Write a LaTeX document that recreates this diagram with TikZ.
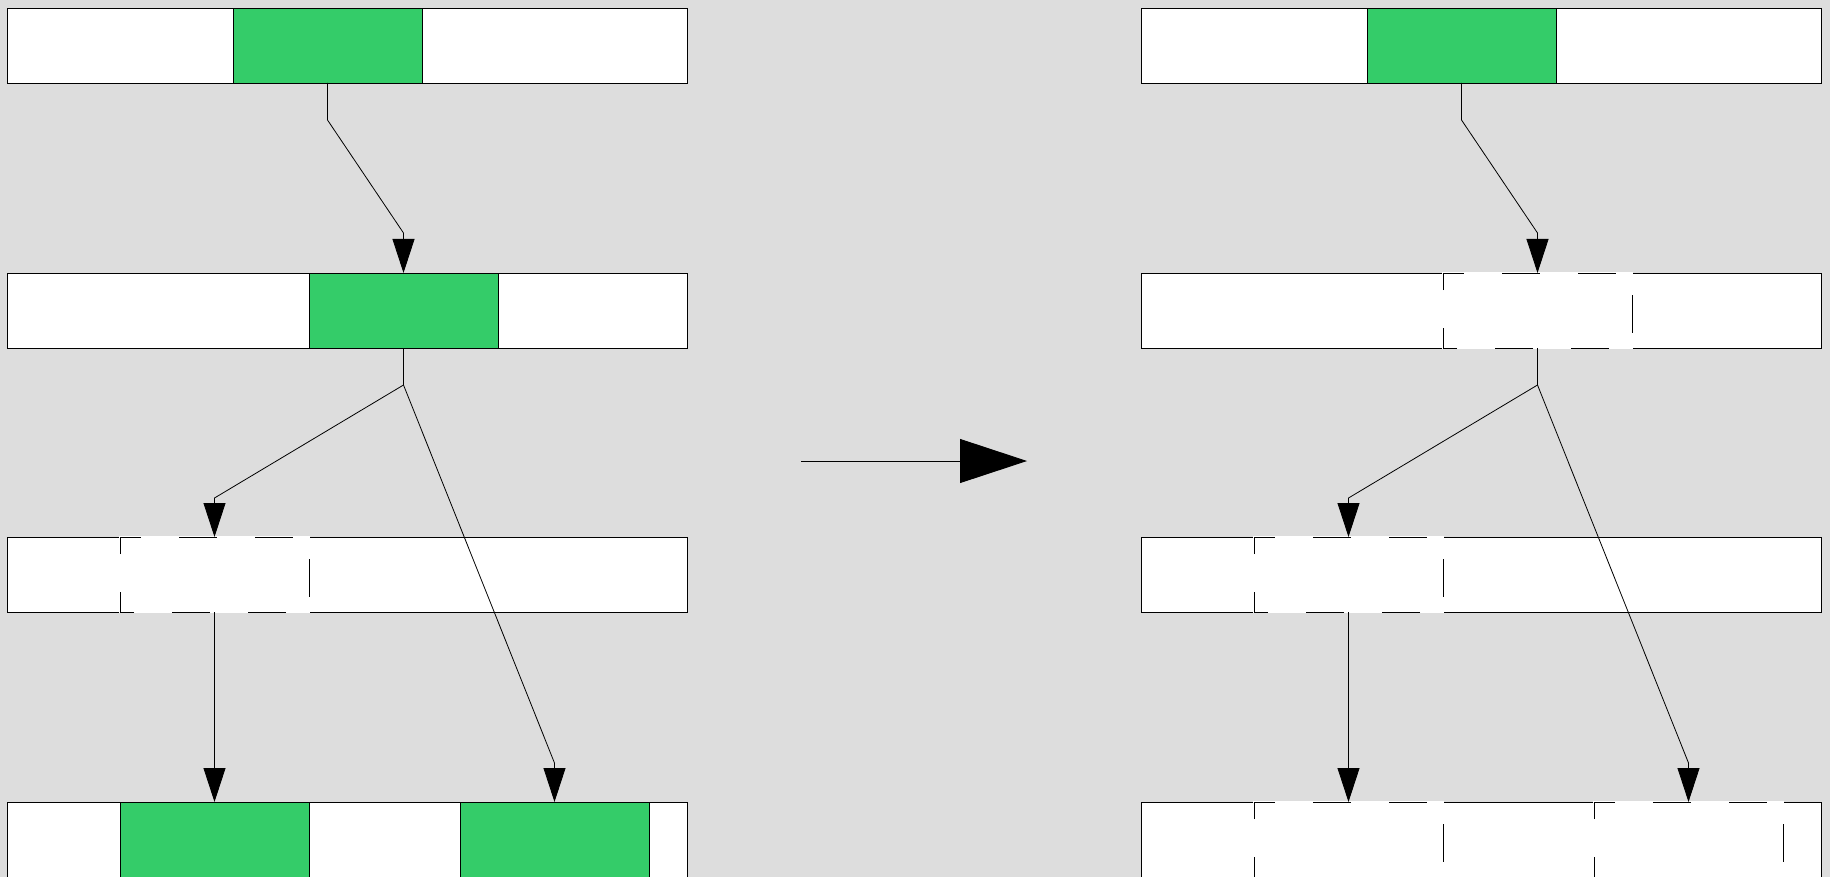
\documentclass[tikz,border=0pt]{standalone}
\usetikzlibrary{arrows.meta}
\definecolor{bg}{HTML}{DDDDDD}
\definecolor{hot}{HTML}{34CC69}
\begin{document}
\begin{tikzpicture}[x=1pt,y=-1pt,line width=0.9pt,
  bar/.style={draw=black, fill=white, minimum width=680pt, minimum height=75pt,
    anchor=north west, inner sep=0pt, outer sep=0pt},
  seg/.style={minimum width=189pt, minimum height=75pt,
    anchor=north west, inner sep=0pt, outer sep=0pt},
  hotseg/.style={seg, draw=black, fill=hot},
  ghostseg/.style={seg, fill=white, draw=white, solid, line width=1.3pt},
  ghostline/.style={draw=black, line width=0.9pt,
    dash pattern=on 38pt off 38pt, dash phase=18pt},
  link/.style={draw=black, line width=0.8pt, -{Triangle[length=34pt,width=22pt]}}]

% canvas
\fill[bg] (0,0) rectangle (1830,877);
\useasboundingbox (0,0) rectangle (1830,877);

% ---------- before ----------
\node[bar] (L1) at (7,8) {};
\node[bar] (L2) at (7,273) {};
\node[bar] (L3) at (7,537) {};
\node[bar] (L4) at (7,802) {};

\node[hotseg]   (l1) at (233,8) {};
\node[hotseg]   (l2) at (309,273) {};
\node[ghostseg] (l3) at (120,537) {};
\node[hotseg]   (l4a) at (120,802) {};
\node[hotseg]   (l4b) at (460,802) {};

\foreach \g in {l3}
  \draw[ghostline] (\g.south west) -- (\g.north west) -- (\g.north east)
    -- (\g.south east) -- cycle;

\coordinate (la1) at (327.5,120);
\coordinate (la2) at (403.5,233);
\coordinate (lb1) at (403.5,385);
\coordinate (lb2) at (214.5,498);
\coordinate (lb3) at (554.5,763);

\draw[link] (l1.south) -- (la1) -- (la2) -- (l2.north);
\draw[link] (l2.south) -- (lb1) -- (lb2) -- (l3.north);
\draw[link] (lb1) -- (lb3) -- (l4b.north);
\draw[link] (l3.south) -- (l4a.north);

% ---------- transition ----------
\coordinate (t0) at (801,461);
\coordinate (t1) at (1027,461);
\draw[draw=black, line width=0.9pt, -{Triangle[length=67pt,width=44pt]}] (t0) -- (t1);

% ---------- after ----------
\node[bar] (R1) at (1141,8) {};
\node[bar] (R2) at (1141,273) {};
\node[bar] (R3) at (1141,537) {};
\node[bar] (R4) at (1141,802) {};

\node[hotseg]   (r1) at (1367,8) {};
\node[ghostseg] (r2) at (1443,273) {};
\node[ghostseg] (r3) at (1254,537) {};
\node[ghostseg] (r4a) at (1254,802) {};
\node[ghostseg] (r4b) at (1594,802) {};

\foreach \g in {r2,r3,r4a,r4b}
  \draw[ghostline] (\g.south west) -- (\g.north west) -- (\g.north east)
    -- (\g.south east) -- cycle;

\coordinate (ra1) at (1461.5,120);
\coordinate (ra2) at (1537.5,233);
\coordinate (rb1) at (1537.5,385);
\coordinate (rb2) at (1348.5,498);
\coordinate (rb3) at (1688.5,763);

\draw[link] (r1.south) -- (ra1) -- (ra2) -- (r2.north);
\draw[link] (r2.south) -- (rb1) -- (rb2) -- (r3.north);
\draw[link] (rb1) -- (rb3) -- (r4b.north);
\draw[link] (r3.south) -- (r4a.north);
\end{tikzpicture}
\end{document}
